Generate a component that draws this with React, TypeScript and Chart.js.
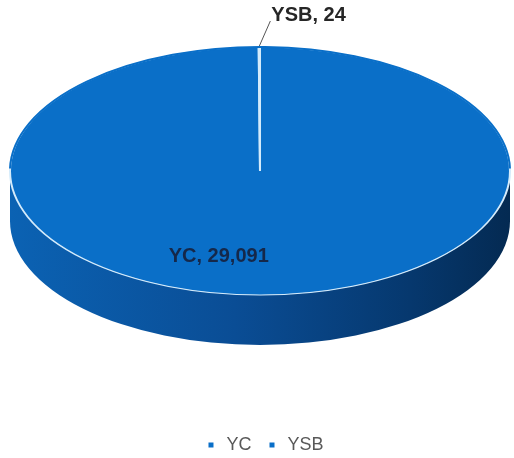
import React, { useEffect, useRef } from "react";
import { Chart, registerables } from "chart.js";

Chart.register(...registerables);

// ---- data ----
const categories: string[] = ["YC", "YSB"];
const values: number[] = [29091, 24];

// ---- style / layout ----
const FACE = "#0a6fc8";
const EDGE = "#d4ebfb";
const CANVAS_W = 514;
const CANVAS_H = 464;
const CX = 260;
const CY = 171;
const RX = 250;
const RY = 124;
const DEPTH = 50;
const FONT = "'Liberation Sans', Arial, sans-serif";

const fmt = (v: number) => v.toLocaleString("en-US");

const pie3d = {
  id: "pie3d",
  beforeDatasetsDraw(chart: any) {
    const ctx: CanvasRenderingContext2D = chart.ctx;
    // side wall of the 3D disc
    const g = ctx.createLinearGradient(CX - RX, 0, CX + RX, 0);
    g.addColorStop(0, "#0b62b3");
    g.addColorStop(0.45, "#0a4d95");
    g.addColorStop(0.8, "#06386e");
    g.addColorStop(1, "#042a52");
    ctx.save();
    ctx.beginPath();
    ctx.moveTo(CX - RX, CY);
    ctx.lineTo(CX - RX, CY + DEPTH);
    ctx.ellipse(CX, CY + DEPTH, RX, RY, 0, Math.PI, 0, true);
    ctx.lineTo(CX + RX, CY);
    ctx.ellipse(CX, CY, RX, RY, 0, 0, Math.PI, false);
    ctx.closePath();
    ctx.fillStyle = g;
    ctx.fill();
    ctx.restore();

    // project the library's circular pie onto the tilted ellipse
    const arc = chart.getDatasetMeta(0).data[0];
    const { x, y, outerRadius } = arc.getProps(["x", "y", "outerRadius"], true);
    ctx.save();
    ctx.translate(CX, CY);
    ctx.scale(RX / outerRadius, RY / outerRadius);
    ctx.translate(-x, -y);
  },
  afterDatasetsDraw(chart: any) {
    const ctx: CanvasRenderingContext2D = chart.ctx;
    ctx.restore();

    // back rim has no highlight
    ctx.save();
    ctx.beginPath();
    ctx.ellipse(CX, CY, RX, RY, 0, Math.PI + 0.02, 2 * Math.PI - 0.02, false);
    ctx.strokeStyle = FACE;
    ctx.lineWidth = 2;
    ctx.stroke();
    ctx.restore();

    const meta = chart.getDatasetMeta(0);
    const labels = chart.data.labels as string[];
    const data = chart.data.datasets[0].data as number[];

    ctx.save();
    ctx.font = `bold 20px ${FONT}`;
    ctx.textBaseline = "middle";

    // big slice label (inside)
    ctx.fillStyle = "#15284a";
    ctx.textAlign = "center";
    ctx.fillText(`${labels[0]}, ${fmt(data[0])}`, CX - 0.165 * RX, CY + 0.69 * RY);

    // small slice label (outside, with leader line)
    const a = meta.data[1];
    const { startAngle, endAngle } = a.getProps(["startAngle", "endAngle"], true);
    const mid = (startAngle + endAngle) / 2;
    const px = CX + Math.cos(mid) * RX;
    const py = CY + Math.sin(mid) * RY;
    ctx.strokeStyle = "#555555";
    ctx.lineWidth = 1;
    ctx.beginPath();
    ctx.moveTo(px, py - 1);
    ctx.lineTo(px + 11, py - 26);
    ctx.stroke();
    ctx.fillStyle = "#262626";
    ctx.textAlign = "left";
    ctx.fillText(`${labels[1]}, ${fmt(data[1])}`, px + 12, py - 32);
    ctx.restore();
  },
};

export default function App() {
  const ref = useRef<HTMLCanvasElement | null>(null);

  useEffect(() => {
    if (!ref.current) return;
    const base = (Chart as any).overrides.doughnut.plugins.legend.labels.generateLabels;
    const chart = new Chart(ref.current, {
      type: "pie",
      data: {
        labels: categories,
        datasets: [
          {
            data: values,
            backgroundColor: [FACE, FACE],
            borderColor: EDGE,
            borderWidth: 1.7,
          },
        ],
      },
      options: {
        responsive: false,
        animation: false,
        events: [],
        layout: { padding: { left: 14 } },
        plugins: {
          tooltip: { enabled: false },
          legend: {
            position: "bottom",
            labels: {
              usePointStyle: true,
              pointStyle: "rect",
              boxWidth: 13,
              boxHeight: 5,
              padding: 14,
              color: "#595959",
              font: { family: FONT, size: 18 },
              generateLabels: (c: any) =>
                base(c).map((l: any) => ({ ...l, lineWidth: 0, strokeStyle: FACE })),
            },
          },
        },
      },
      plugins: [pie3d],
    });
    return () => chart.destroy();
  }, []);

  return (
    <div
      style={{
        position: "absolute",
        left: 0,
        top: 0,
        width: CANVAS_W,
        height: 458,
        overflow: "hidden",
        background: "#ffffff",
      }}
    >
      <canvas ref={ref} width={CANVAS_W} height={CANVAS_H} />
    </div>
  );
}
